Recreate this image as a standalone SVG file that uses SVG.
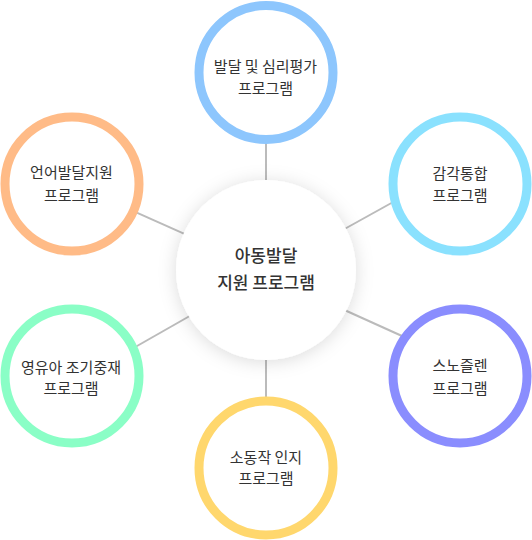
<svg xmlns="http://www.w3.org/2000/svg" width="532" height="540" viewBox="0 0 532 540">
<style>
.ring{fill:#fff;stroke-width:9}
.lbl{font-family:"Noto Sans CJK KR","Noto Sans",sans-serif;font-size:15px;fill:#333;text-anchor:middle}
.ctr{font-family:"Noto Sans CJK KR","Noto Sans",sans-serif;font-size:17px;font-weight:500;fill:#333;text-anchor:middle}
.conn{stroke:#bbb;stroke-width:2;fill:none}
</style>
<defs>
<filter id="sh" x="-30%" y="-30%" width="160%" height="160%">
<feDropShadow dx="0" dy="2" stdDeviation="9" flood-color="#000" flood-opacity="0.14"/>
</filter>
</defs>
<rect width="532" height="540" fill="#fff"/>
<g id="connectors">
<line class="conn" x1="266" y1="140" x2="266" y2="190"/>
<line class="conn" x1="266" y1="350" x2="266" y2="400"/>
<line class="conn" x1="130" y1="209.6" x2="190" y2="236.4"/>
<line class="conn" x1="130" y1="350" x2="195" y2="313"/>
<line class="conn" x1="340" y1="231.5" x2="395" y2="201"/>
<line class="conn" x1="340" y1="308" x2="402" y2="336"/>
</g>
<g id="center">
<circle cx="266" cy="270" r="90" fill="#fff" filter="url(#sh)"/>
<text class="ctr" x="266" y="262">아동발달</text>
<text class="ctr" x="266" y="289">지원 프로그램</text>
</g>
<g id="top">
<circle class="ring" cx="266" cy="72.5" r="67" stroke="#8dc6fd"/>
<text class="lbl" x="265.5" y="72">발달 및 심리평가</text>
<text class="lbl" x="265.5" y="93.5">프로그램</text>
</g>
<g id="upper-left">
<circle class="ring" cx="72" cy="184" r="67" stroke="#ffbb87"/>
<text class="lbl" x="71.5" y="178">언어발달지원</text>
<text class="lbl" x="71.5" y="201">프로그램</text>
</g>
<g id="upper-right">
<circle class="ring" cx="460" cy="184" r="67" stroke="#8ae1fe"/>
<text class="lbl" x="460" y="179">감각통합</text>
<text class="lbl" x="460" y="201">프로그램</text>
</g>
<g id="lower-right">
<circle class="ring" cx="460" cy="376" r="67" stroke="#8a8dfe"/>
<text class="lbl" x="460" y="371">스노즐렌</text>
<text class="lbl" x="460" y="393.5">프로그램</text>
</g>
<g id="lower-left">
<circle class="ring" cx="72" cy="376" r="67" stroke="#8afec6"/>
<text class="lbl" x="71" y="372.5">영유아 조기중재</text>
<text class="lbl" x="71" y="394">프로그램</text>
</g>
<g id="bottom">
<circle class="ring" cx="266" cy="468" r="67" stroke="#ffd76d"/>
<text class="lbl" x="266" y="462.5">소동작 인지</text>
<text class="lbl" x="266" y="484">프로그램</text>
</g>
</svg>
